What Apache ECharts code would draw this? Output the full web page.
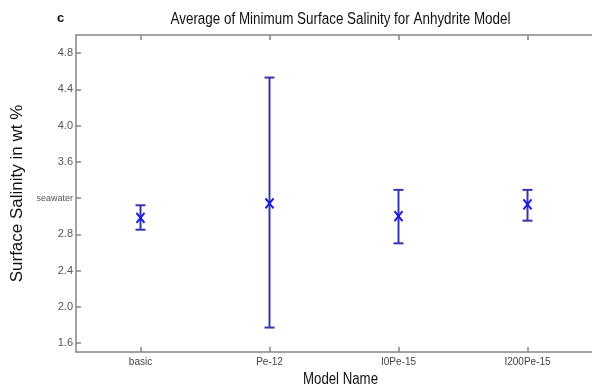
<!DOCTYPE html>
<html>
<head>
<meta charset="utf-8">
<script src="https://cdn.jsdelivr.net/npm/echarts@6/dist/echarts.min.js"></script>
<style>
html,body{margin:0;padding:0;background:#fff;}
#chart{width:592px;height:390px;}
</style>
</head>
<body>
<div id="chart"></div>
<script>
var categories = ['basic', 'Pe-12', 'I0Pe-15', 'I200Pe-15'];
var means = [2.98, 3.14, 3.00, 3.13];
var lows = [2.85, 1.77, 2.70, 2.95];
var highs = [3.12, 4.53, 3.29, 3.29];
var yTicks = [1.6, 2.0, 2.4, 2.8, 3.2, 3.6, 4.0, 4.4, 4.8];
var seawaterTick = 3.2;
var titleText = 'Average of Minimum Surface Salinity for Anhydrite Model';
var xName = 'Model Name';
var yName = 'Surface Salinity in wt %';
var panelLetter = 'c';

var sans = "'Liberation Sans', Arial, sans-serif";
var axisColor = '#858585';

// horizontal condensing factor so text imitates a narrow face
function fitScale(text, font, targetWidth) {
  var ctx = document.createElement('canvas').getContext('2d');
  ctx.font = font;
  var w = ctx.measureText(text).width;
  return w > 0 ? targetWidth / w : 1;
}
var titleFont = '16px ' + sans;
var xNameFont = '16px ' + sans;

var gridLeft = 76, gridWidth = 529, gridTop = 35, gridBottom = 38;
var centerX = gridLeft + gridWidth / 2;

var seriesData = categories.map(function (c, i) {
  return [i, means[i], lows[i], highs[i]];
});

var chart = echarts.init(document.getElementById('chart'), null, {renderer: 'canvas'});
chart.setOption({
  animation: false,
  backgroundColor: '#fff',
  grid: {left: gridLeft, top: gridTop, bottom: gridBottom, width: gridWidth, containLabel: false},
  graphic: [
    {type: 'text', x: 57, y: 12, style: {text: panelLetter, font: 'bold 13px ' + sans, fill: '#111'}},
    {type: 'text', x: centerX, y: 20, scaleX: fitScale(titleText, titleFont, 340),
      style: {text: titleText, font: titleFont, fill: '#111', align: 'center', verticalAlign: 'middle'}},
    {type: 'text', x: centerX, y: 380, scaleX: fitScale(xName, xNameFont, 75),
      style: {text: xName, font: xNameFont, fill: '#111', align: 'center', verticalAlign: 'middle'}}
  ],
  xAxis: [{
    type: 'category',
    data: categories,
    position: 'bottom',
    boundaryGap: true,
    axisLine: {show: true, lineStyle: {color: axisColor, width: 1.5}},
    axisTick: {show: true, inside: true, length: 5, alignWithLabel: true, lineStyle: {color: axisColor, width: 1.5}},
    axisLabel: {show: true, fontFamily: sans, fontSize: 10, color: '#444', margin: 5},
    splitLine: {show: false}
  }, {
    type: 'category',
    data: categories,
    position: 'top',
    boundaryGap: true,
    axisLine: {show: true, lineStyle: {color: axisColor, width: 1.5}},
    axisTick: {show: true, inside: true, length: 5, alignWithLabel: true, lineStyle: {color: axisColor, width: 1.5}},
    axisLabel: {show: false},
    splitLine: {show: false}
  }],
  yAxis: {
    type: 'value',
    min: 1.5,
    max: 5.0,
    name: yName,
    nameLocation: 'middle',
    nameGap: 43,
    nameTextStyle: {fontFamily: sans, fontSize: 17, color: '#111'},
    axisLine: {show: true, lineStyle: {color: axisColor, width: 1.5}},
    axisTick: {show: true, inside: true, length: 5, customValues: yTicks, lineStyle: {color: axisColor, width: 1.5}},
    axisLabel: {
      show: true, customValues: yTicks, margin: 3, color: '#555',
      fontFamily: sans, fontSize: 11,
      formatter: function (v) {
        if (Math.abs(v - seawaterTick) < 1e-6) return '{sw|seawater}';
        return v.toFixed(1);
      },
      rich: {sw: {fontFamily: sans, fontSize: 9, color: '#555'}}
    },
    splitLine: {show: false}
  },
  series: [{
    type: 'custom',
    xAxisIndex: 0,
    data: seriesData,
    encode: {x: 0, y: [1, 2, 3]},
    renderItem: function (params, api) {
      var x = api.value(0);
      var pm = api.coord([x, api.value(1)]);
      var pl = api.coord([x, api.value(2)]);
      var ph = api.coord([x, api.value(3)]);
      var cap = 5;
      var mkx = 4, mky = 5;
      var barStyle = {stroke: '#3535ad', lineWidth: 2};
      var mkStyle = {stroke: '#1c1ce0', lineWidth: 2};
      return {
        type: 'group',
        children: [
          {type: 'line', shape: {x1: pl[0], y1: pl[1], x2: ph[0], y2: ph[1]}, style: barStyle},
          {type: 'line', shape: {x1: pl[0] - cap, y1: pl[1], x2: pl[0] + cap, y2: pl[1]}, style: barStyle},
          {type: 'line', shape: {x1: ph[0] - cap, y1: ph[1], x2: ph[0] + cap, y2: ph[1]}, style: barStyle},
          {type: 'line', shape: {x1: pm[0] - mkx, y1: pm[1] - mky, x2: pm[0] + mkx, y2: pm[1] + mky}, style: mkStyle},
          {type: 'line', shape: {x1: pm[0] - mkx, y1: pm[1] + mky, x2: pm[0] + mkx, y2: pm[1] - mky}, style: mkStyle}
        ]
      };
    }
  }]
});
</script>
</body>
</html>
